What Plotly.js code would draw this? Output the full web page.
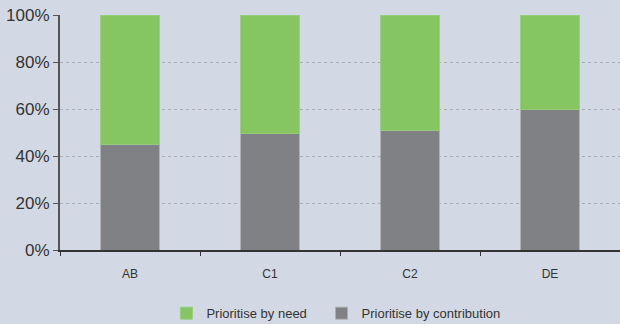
<!DOCTYPE html>
<html>
<head>
<meta charset="utf-8">
<script src="https://cdn.plot.ly/plotly-3.0.1.min.js"></script>
<style>
  html, body { margin: 0; padding: 0; background: #d3d9e4; }
  #chart { width: 620px; height: 324px; }
</style>
</head>
<body>
<div id="chart"></div>
<script>
// Social grade groups
const categories = ['AB', 'C1', 'C2', 'DE'];
// Share preferring each allocation rule (%)
const byContribution = [45, 49.5, 51, 60];
const byNeed = [55, 50.5, 49, 40];
const yTickValues = [0, 20, 40, 60, 80, 100];
const yTickLabels = ['0%', '20%', '40%', '60%', '80%', '100%'];

const fontFamily = 'Liberation Sans, Arial, sans-serif';

const traces = [
  {
    type: 'bar',
    name: 'Prioritise by contribution',
    legend: 'legend2',
    x: categories,
    y: byContribution,
    marker: { color: '#808184', line: { color: 'rgba(170,172,176,0.9)', width: 1 } },
    hoverinfo: 'skip'
  },
  {
    type: 'bar',
    name: 'Prioritise by need',
    legend: 'legend',
    x: categories,
    y: byNeed,
    marker: { color: '#85c663', line: { color: 'rgba(150,205,120,0.9)', width: 1 } },
    hoverinfo: 'skip'
  }
];

const legendStyle = {
  orientation: 'h',
  xanchor: 'left',
  y: -0.205,
  yanchor: 'top',
  font: { size: 13, color: '#333333' },
  itemwidth: 30,
  bgcolor: 'rgba(0,0,0,0)'
};

const layout = {
  width: 620,
  height: 324,
  barmode: 'stack',
  bargap: 0.58,
  paper_bgcolor: '#d3d9e4',
  plot_bgcolor: '#d3d9e4',
  margin: { l: 60, r: 0, t: 15, b: 74, autoexpand: false },
  font: { family: fontFamily, color: '#333333' },
  showlegend: true,
  legend: Object.assign({}, legendStyle, { x: 0.19 }),
  legend2: Object.assign({}, legendStyle, { x: 0.467 }),
  xaxis: {
    type: 'category',
    showline: true,
    linecolor: '#333333',
    linewidth: 2,
    ticks: 'outside',
    tickson: 'boundaries',
    ticklen: 4,
    tickcolor: '#333333',
    tickwidth: 1,
    ticklabelstandoff: 12,
    tickfont: { size: 12, color: '#333333' },
    showgrid: false,
    zeroline: false,
    fixedrange: true
  },
  yaxis: {
    range: [0, 100],
    tickmode: 'array',
    tickvals: yTickValues,
    ticktext: yTickLabels,
    tickfont: { size: 17, color: '#333333' },
    showline: true,
    linecolor: '#555555',
    linewidth: 2,
    ticks: 'outside',
    ticklen: 5,
    tickcolor: '#555555',
    showgrid: true,
    gridcolor: '#a9aeb6',
    gridwidth: 1,
    griddash: '3px,3px',
    zeroline: false,
    fixedrange: true
  }
};

Plotly.newPlot('chart', traces, layout, { displayModeBar: false, staticPlot: true });
</script>
</body>
</html>
